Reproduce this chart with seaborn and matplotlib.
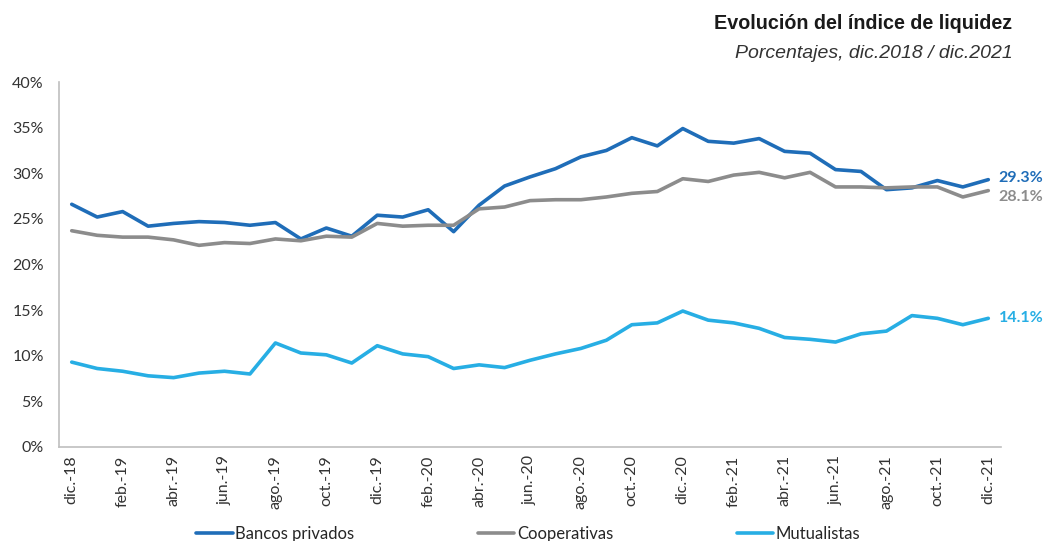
import pandas as pd
import numpy as np
import matplotlib
matplotlib.use("Agg")
import matplotlib.pyplot as plt
import seaborn as sns

# Monthly data, dic.2018 - dic.2021 (percent)
meses = ['dic.-18', 'ene.-19', 'feb.-19', 'mar.-19', 'abr.-19', 'may.-19', 'jun.-19',
         'jul.-19', 'ago.-19', 'sep.-19', 'oct.-19', 'nov.-19', 'dic.-19', 'ene.-20',
         'feb.-20', 'mar.-20', 'abr.-20', 'may.-20', 'jun.-20', 'jul.-20', 'ago.-20',
         'sep.-20', 'oct.-20', 'nov.-20', 'dic.-20', 'ene.-21', 'feb.-21', 'mar.-21',
         'abr.-21', 'may.-21', 'jun.-21', 'jul.-21', 'ago.-21', 'sep.-21', 'oct.-21',
         'nov.-21', 'dic.-21']

bancos = [26.6, 25.2, 25.8, 24.2, 24.5, 24.7, 24.6, 24.3, 24.6, 22.8, 24.0, 23.1,
          25.4, 25.2, 26.0, 23.6, 26.5, 28.6, 29.6, 30.5, 31.8, 32.5, 33.9, 33.0,
          34.9, 33.5, 33.3, 33.8, 32.4, 32.2, 30.4, 30.2, 28.2, 28.4, 29.2, 28.5, 29.3]

cooperativas = [23.7, 23.2, 23.0, 23.0, 22.7, 22.1, 22.4, 22.3, 22.8, 22.6, 23.1, 23.0,
                24.5, 24.2, 24.3, 24.3, 26.1, 26.3, 27.0, 27.1, 27.1, 27.4, 27.8, 28.0,
                29.4, 29.1, 29.8, 30.1, 29.5, 30.1, 28.5, 28.5, 28.4, 28.5, 28.5, 27.4, 28.1]

mutualistas = [9.3, 8.6, 8.3, 7.8, 7.6, 8.1, 8.3, 8.0, 11.4, 10.3, 10.1, 9.2,
               11.1, 10.2, 9.9, 8.6, 9.0, 8.7, 9.5, 10.2, 10.8, 11.7, 13.4, 13.6,
               14.9, 13.9, 13.6, 13.0, 12.0, 11.8, 11.5, 12.4, 12.7, 14.4, 14.1, 13.4, 14.1]

series = ['Bancos privados', 'Cooperativas', 'Mutualistas']
colores = ['#1F6DB8', '#8C8C8C', '#27AEE4']

df = pd.DataFrame({
    'mes': list(range(len(meses))) * 3,
    'valor': bancos + cooperativas + mutualistas,
    'serie': sum([[s] * len(meses) for s in series], []),
})

sns.set_style("white")
plt.rcParams['font.family'] = ['Lato', 'DejaVu Sans']

fig = plt.figure(figsize=(10.46, 5.41), dpi=100)
ax = fig.add_axes([0.0564, 0.1738, 0.9006, 0.6746])

sns.lineplot(
    data=df,
    x='mes',
    y='valor',
    hue='serie',
    palette=colores,
    linewidth=2.6,
    ax=ax,
    legend=True,
)

ax.set_xlim(-0.5, len(meses) - 0.5)
ax.set_ylim(0, 40)
ax.set_yticks(range(0, 41, 5))
ax.set_yticklabels([f"{v}%" for v in range(0, 41, 5)], fontsize=11.5, color='#333333')

pos = list(range(0, len(meses), 2))
ax.set_xticks(pos)
ax.set_xticklabels([meses[i] for i in pos], rotation=90, fontsize=11.5, color='#333333')
ax.set_xticks([p - 0.5 for p in pos], minor=True)
ax.tick_params(axis='x', which='major', length=0, pad=6)
ax.tick_params(axis='x', which='minor', length=5, color='#BFBFBF', direction='out')
ax.tick_params(axis='y', length=5, color='#BFBFBF', direction='out', pad=6)

ax.set_xlabel('')
ax.set_ylabel('')

for side in ['top', 'right']:
    ax.spines[side].set_visible(False)
for side in ['left', 'bottom']:
    ax.spines[side].set_color('#BFBFBF')
    ax.spines[side].set_linewidth(1.2)

# end labels
ult = len(meses) - 1
ax.text(ult + 0.4, bancos[-1] + 0.2, f"{bancos[-1]:.1f}%", color=colores[0],
        fontsize=11.5, fontweight='bold', va='center', ha='left')
ax.text(ult + 0.4, cooperativas[-1] - 0.7, f"{cooperativas[-1]:.1f}%", color=colores[1],
        fontsize=11.5, fontweight='bold', va='center', ha='left')
ax.text(ult + 0.4, mutualistas[-1], f"{mutualistas[-1]:.1f}%", color=colores[2],
        fontsize=11.5, fontweight='bold', va='center', ha='left')

# legend at bottom
handles, labels = ax.get_legend_handles_labels()
ax.get_legend().remove()
fig.legend(handles, labels, loc='center', bbox_to_anchor=(0.505, 0.013), ncol=3,
           frameon=False, fontsize=12, handlelength=2.2, handletextpad=0.15,
           columnspacing=7.4)

# title
fig.text(0.968, 0.957, 'Evolución del índice de liquidez', ha='right', va='center',
         fontsize=14.2, fontweight='bold', color='#1A1A1A', family='Liberation Sans')
fig.text(0.968, 0.902, 'Porcentajes, dic.2018 / dic.2021', ha='right', va='center',
         fontsize=14, style='italic', color='#333333', family='Liberation Sans')

plt.savefig('out.png', dpi=100)
